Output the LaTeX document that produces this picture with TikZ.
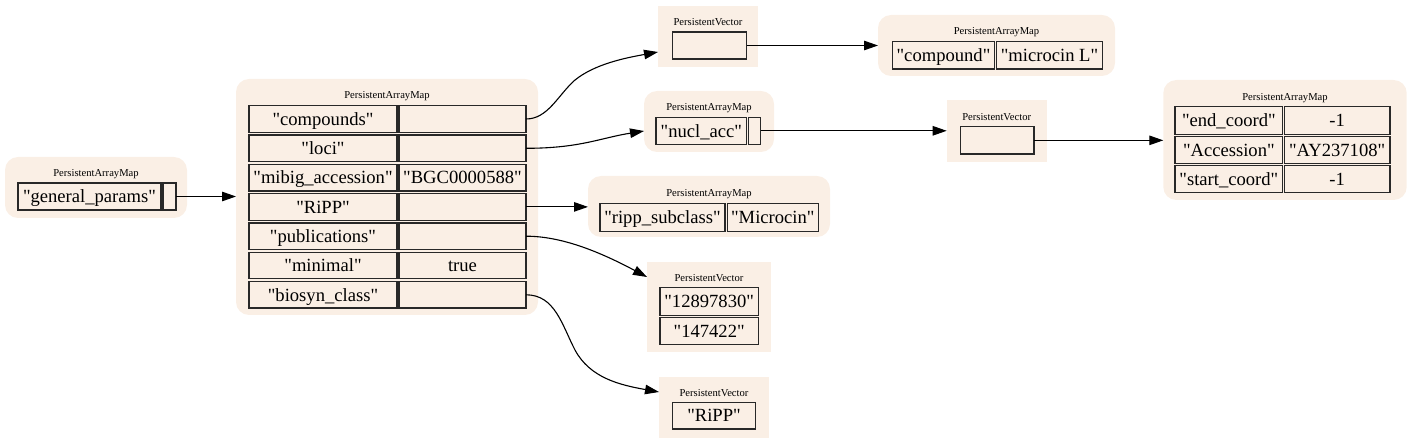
\documentclass[tikz,border=0pt]{standalone}
\usepackage{fontspec}
\setmainfont{Liberation Serif}[Ligatures=TeXOff]
\usetikzlibrary{arrows.meta,fit}
\definecolor{bgc}{RGB}{250,239,229}
\definecolor{edgec}{RGB}{40,40,40}
\tikzset{
  bgmap/.style={fill=bgc, draw=none, rounded corners=13pt, inner sep=0pt, outer sep=0pt},
  bgvec/.style={fill=bgc, draw=none, inner sep=0pt, outer sep=0pt},
  cell/.style={draw=edgec, line width=1.3pt, fill=bgc, inner sep=0pt, outer sep=0pt},
  celltext/.style={font=\fontsize{18.6}{20}\selectfont, inner sep=0pt, text height=12.6pt, text depth=4.1pt, yshift=-2pt},
  lbl/.style={font=\fontsize{10.6}{12}\selectfont, inner sep=0pt},
  link/.style={-{Triangle[length=14pt,width=9.5pt]}, line width=1.1pt, black},
}
\begin{document}
\begin{tikzpicture}[x=1pt,y=-1pt]
\useasboundingbox (0,0) rectangle (1408,443);

% ---------- backgrounds ----------
\node[bgmap, fit={(5,157) (187,218)}] (gpbg) {};
\node[bgmap, fit={(236,79) (538,315)}] (mainbg) {};
\node[bgvec, fit={(658,6) (758,67)}] (pv1) {};
\node[bgmap, fit={(878,15) (1115,76)}] (cmap) {};
\node[bgmap, fit={(644,91) (774,152)}] (nbg) {};
\node[bgvec, fit={(946.7,100) (1046.7,162)}] (pv2) {};
\node[bgmap, fit={(1163.3,80) (1406.7,200)}] (rmap) {};
\node[bgmap, fit={(588,176) (830,237)}] (rippbg) {};
\node[bgvec, fit={(647,261.7) (771,351.7)}] (pubbg) {};
\node[bgvec, fit={(659,376.7) (769.3,438.3)}] (bsbg) {};

% ---------- labels ----------
\node[lbl] (gpl) at (96,174) {PersistentArrayMap};
\node[lbl] (mainl) at (387,96) {PersistentArrayMap};
\node[lbl] (pv1l) at (708,22) {PersistentVector};
\node[lbl] (cmapl) at (996.5,32) {PersistentArrayMap};
\node[lbl] (nl) at (709,108) {PersistentArrayMap};
\node[lbl] (pv2l) at (996.7,117) {PersistentVector};
\node[lbl] (rmapl) at (1285,97.7) {PersistentArrayMap};
\node[lbl] (rippl) at (709,193.7) {PersistentArrayMap};
\node[lbl] (publ) at (709,277.7) {PersistentVector};
\node[lbl] (bsl) at (714,392.7) {PersistentVector};

% ---------- general params ----------
\node[cell, fit={(18,183) (161,210)}, label={[celltext]center:"general\_params"}] (gpk) {};
\node[cell, fit={(163,183) (176,210)}] (gpv) {};

% ---------- main map ----------
\node[cell, fit={(249,105.7) (397,132.3)}, label={[celltext]center:"compounds"}] (k1) {};
\node[cell, fit={(399,105.7) (526,132.3)}] (v1) {};
\node[cell, fit={(249,135) (397,161.6)}, label={[celltext]center:"loci"}] (k2) {};
\node[cell, fit={(399,135) (526,161.6)}] (v2) {};
\node[cell, fit={(249,164.3) (397,190.9)}, label={[celltext]center:"mibig\_accession"}] (k3) {};
\node[cell, fit={(399,164.3) (526,190.9)}, label={[celltext]center:"BGC0000588"}] (v3) {};
\node[cell, fit={(249,193.6) (397,220.2)}, label={[celltext]center:"RiPP"}] (k4) {};
\node[cell, fit={(399,193.6) (526,220.2)}] (v4) {};
\node[cell, fit={(249,222.9) (397,249.5)}, label={[celltext]center:"publications"}] (k5) {};
\node[cell, fit={(399,222.9) (526,249.5)}] (v5) {};
\node[cell, fit={(249,252.2) (397,278.8)}, label={[celltext]center:"minimal"}] (k6) {};
\node[cell, fit={(399,252.2) (526,278.8)}, label={[celltext]center:true}] (v6) {};
\node[cell, fit={(249,281.5) (397,308.1)}, label={[celltext]center:"biosyn\_class"}] (k7) {};
\node[cell, fit={(399,281.5) (526,308.1)}] (v7) {};

% ---------- top vector ----------
\node[cell, fit={(672.7,32) (746.7,59)}] (pv1c) {};

% ---------- compound map ----------
\node[cell, fit={(892.7,41.7) (994.3,69)}, label={[celltext]center:"compound"}] (ck) {};
\node[cell, fit={(996.7,41.7) (1102.3,69)}, label={[celltext]center:"microcin L"}] (cv) {};

% ---------- nucl_acc map ----------
\node[cell, fit={(656,117.3) (746.7,144.3)}, label={[celltext]center:"nucl\_acc"}] (nk) {};
\node[cell, fit={(748.7,117.3) (760.7,144.3)}] (nv) {};

% ---------- middle vector ----------
\node[cell, fit={(960.7,126.7) (1034,154)}] (pv2c) {};

% ---------- right map ----------
\node[cell, fit={(1175,106.7) (1282.7,134.3)}, label={[celltext]center:"end\_coord"}] (rk1) {};
\node[cell, fit={(1284.3,106.7) (1390,134.3)}, label={[celltext]center:-1}] (rv1) {};
\node[cell, fit={(1175,136.7) (1282.7,163.3)}, label={[celltext]center:"Accession"}] (rk2) {};
\node[cell, fit={(1284.3,136.7) (1390,163.3)}, label={[celltext]center:"AY237108"}] (rv2) {};
\node[cell, fit={(1175,165.7) (1282.7,192.3)}, label={[celltext]center:"start\_coord"}] (rk3) {};
\node[cell, fit={(1284.3,165.7) (1390,192.3)}, label={[celltext]center:-1}] (rv3) {};

% ---------- ripp map ----------
\node[cell, fit={(600,203.7) (725,231.3)}, label={[celltext]center:"ripp\_subclass"}] (rpk) {};
\node[cell, fit={(727.3,203.7) (818.3,231.3)}, label={[celltext]center:"Microcin"}] (rpv) {};

% ---------- publications vector ----------
\node[cell, fit={(660,287.5) (758.3,315.3)}, label={[celltext]center:"12897830"}] (pb1) {};
\node[cell, fit={(660,317.7) (758.3,344.3)}, label={[celltext]center:"147422"}] (pb2) {};

% ---------- biosyn vector ----------
\node[cell, fit={(672.3,402.3) (755.7,429)}, label={[celltext]center:"RiPP"}] (bs1) {};

% ---------- connectors ----------
\draw[link] (gpv.east) -- (mainbg.west |- gpv.east);
\draw[link] (v1.east) .. controls (548,119) and (558,95) .. (575,80)
   .. controls (595,64) and (625,58) .. ([yshift=-15.5pt]pv1.west);
\draw[link] (pv1c.east) -- (cmap.west |- pv1c.east);
\draw[link] (v2.east) .. controls (580,148.3) and (600,138) .. ([yshift=-9.5pt]nbg.west);
\draw[link] (nv.east) -- (pv2.west |- nv.east);
\draw[link] (pv2c.east) -- (rmap.west |- pv2c.east);
\draw[link] (v4.east) -- (rippbg.west |- v4.east);
\draw[link] (v5.east) .. controls (562,236.2) and (600,252) .. ([yshift=29.7pt]pubbg.west);
\draw[link] (v7.east) .. controls (555,294.8) and (562,325) .. (575,350)
   .. controls (590,378) and (620,385) .. ([yshift=15.5pt]bsbg.west);
\end{tikzpicture}
\end{document}
